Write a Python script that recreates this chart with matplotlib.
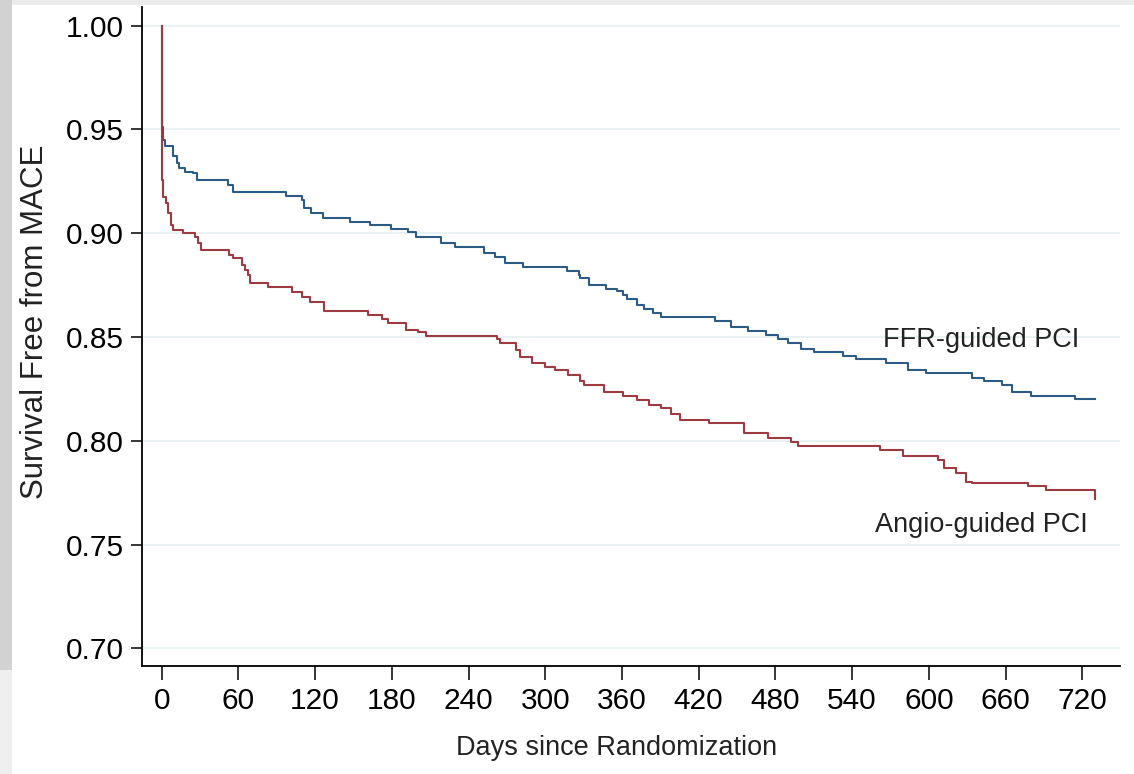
import matplotlib

matplotlib.use("Agg")
import matplotlib.pyplot as plt
from matplotlib.patches import Rectangle

# Kaplan-Meier step data (days, survival after the step)
ffr_days = [0, 0, 1, 2.6, 9.1, 11.7, 13.8, 18.2, 24.7, 27.3, 52, 56, 97, 109.4, 111, 117, 126,
            147, 162.7, 179.7, 192.7, 199.2, 218.2, 229.1, 252, 260.4, 268.2, 282.5, 317.2,
            326.2, 327.5, 334, 347.7, 356.3, 360.6, 363.8, 371.6, 377.6, 384, 390.6, 433,
            445.3, 458.3, 472.7, 481.7, 489.5, 500, 510.4, 532.5, 543, 566.4, 584, 598, 634,
            643.2, 657.5, 665.3, 679.7, 714.3, 730]
ffr_surv = [1.0, 0.951, 0.9449, 0.942, 0.9372, 0.9337, 0.9313, 0.9297, 0.9289, 0.9256, 0.9232,
            0.920, 0.9179, 0.916, 0.912, 0.9099, 0.9072, 0.9053, 0.904, 0.9022, 0.9007, 0.8983,
            0.8954, 0.8935, 0.8906, 0.8887, 0.8855, 0.8839, 0.8819, 0.8799, 0.8783, 0.875,
            0.8733, 0.8723, 0.8702, 0.8683, 0.8654, 0.8633, 0.8614, 0.8595, 0.8578, 0.8547,
            0.853, 0.8509, 0.8489, 0.8469, 0.844, 0.8429, 0.8408, 0.8392, 0.8376, 0.8341,
            0.8325, 0.8304, 0.8288, 0.8268, 0.8236, 0.8215, 0.820, 0.820]

angio_days = [0, 0, 1.3, 3.4, 5.2, 7.3, 9.1, 17, 26, 28.6, 30.4, 52.8, 56, 62.5, 65, 67.2, 69,
              83, 102, 109.4, 116, 127, 161.4, 172.3, 177, 191.4, 200.5, 206.8, 262, 264.8,
              277.3, 280, 290, 300, 308, 318, 327, 330.7, 346.3, 360.6, 371.6, 381, 390.6,
              398.4, 405, 428.4, 455.7, 474, 492, 498, 561.7, 580, 607.5, 612, 621, 629, 634,
              677.8, 692, 730]
angio_surv = [1.0, 0.9256, 0.9176, 0.9144, 0.9096, 0.904, 0.9015, 0.9002, 0.8983, 0.8951,
              0.8919, 0.8895, 0.888, 0.8847, 0.8823, 0.8799, 0.876, 0.874, 0.8716, 0.8694,
              0.867, 0.8625, 0.8604, 0.8585, 0.8567, 0.8535, 0.8525, 0.8507, 0.8489, 0.847,
              0.8437, 0.8405, 0.8375, 0.8355, 0.834, 0.8315, 0.829, 0.8268, 0.8236, 0.8217,
              0.8196, 0.8172, 0.8156, 0.8129, 0.810, 0.8084, 0.8039, 0.8014, 0.7995, 0.7976,
              0.7955, 0.7928, 0.7907, 0.7867, 0.7846, 0.7802, 0.7798, 0.7782, 0.7762, 0.7719]

x_ticks = list(range(0, 721, 60))
y_ticks = [0.70, 0.75, 0.80, 0.85, 0.90, 0.95, 1.00]

plt.rcParams["font.family"] = ["Liberation Sans", "DejaVu Sans"]

fig = plt.figure(figsize=(11.34, 7.74), dpi=100)
fig.patch.set_facecolor("white")

# screenshot frame (grey edges)
fig.patches.append(Rectangle((0, 1 - 5 / 774), 1, 5 / 774, transform=fig.transFigure,
                             facecolor="#ebebeb", edgecolor="none", zorder=-5))
fig.patches.append(Rectangle((0, 1 - 670 / 774), 12 / 1134, 670 / 774, transform=fig.transFigure,
                             facecolor="#d2d2d2", edgecolor="none", zorder=-5))
fig.patches.append(Rectangle((0, 0), 12 / 1134, 1 - 670 / 774, transform=fig.transFigure,
                             facecolor="#efefef", edgecolor="none", zorder=-5))

ax = fig.add_axes([141.7 / 1134, 1 - 665.7 / 774, (1120 - 141.7) / 1134, (665.7 - 7) / 774])
ax.set_facecolor("white")

for yv in y_ticks:
    ax.axhline(yv, color="#e6eff1", linewidth=1.2, zorder=1)

ax.step(ffr_days, ffr_surv, where="post", color="#2c5b85", linewidth=1.5, zorder=3)
ax.step(angio_days, angio_surv, where="post", color="#9e3a42", linewidth=1.5, zorder=4)

ax.text(641, 0.8484, "FFR-guided PCI", ha="center", va="center", fontsize=19.5, color="#222222")
ax.text(641, 0.7594, "Angio-guided PCI", ha="center", va="center", fontsize=19.5, color="#222222")

ax.set_xlim(-15.6, 749.5)
ax.set_ylim(0.6916, 1.009)
ax.set_xticks(x_ticks)
ax.set_yticks(y_ticks)
ax.set_yticklabels([f"{v:.2f}" for v in y_ticks])

for side in ("top", "right"):
    ax.spines[side].set_visible(False)
for side in ("left", "bottom"):
    ax.spines[side].set_linewidth(1.3)
    ax.spines[side].set_color("black")

ax.tick_params(axis="x", length=10, width=1.1, pad=5, labelsize=21.5, colors="black")
ax.tick_params(axis="y", length=8, width=1.1, pad=5, labelsize=21.5, colors="black")

fig.text(617 / 1134, 1 - 748 / 774, "Days since Randomization", ha="center", va="center",
         fontsize=19.5, color="#222222")
fig.text(35 / 1134, 1 - 322 / 774, "Survival Free from MACE", ha="center", va="center",
         rotation=90, fontsize=22.5, color="#222222")

fig.savefig("out.png", dpi=100)
